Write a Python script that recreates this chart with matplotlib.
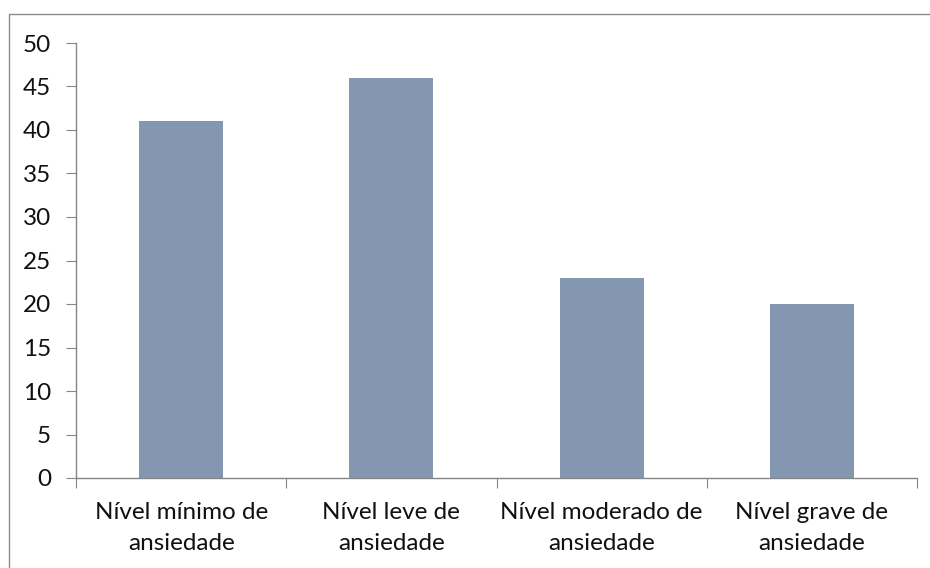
import matplotlib
matplotlib.use("Agg")
import matplotlib.pyplot as plt
from matplotlib.patches import Rectangle

categories = ["Nível mínimo de\nansiedade", "Nível leve de\nansiedade",
              "Nível moderado de\nansiedade", "Nível grave de\nansiedade"]
values = [41, 46, 23, 20]
yticks = [0, 5, 10, 15, 20, 25, 30, 35, 40, 45, 50]

BAR = "#8497b0"
AX = "#868686"
W, H = 930, 568

plt.rcParams["font.family"] = ["Lato", "DejaVu Sans"]

fig = plt.figure(figsize=(W / 100, H / 100), dpi=100)
# outer chart-area frame (runs off the right and bottom edges)
fig.patches.append(Rectangle((9 / W, -0.01), 1.0, (H - 14) / H + 0.01,
                             transform=fig.transFigure, fill=False,
                             edgecolor="#8c8c8c", lw=1.0))

ax = fig.add_axes([76 / W, (H - 478) / H, (917 - 76) / W, (478 - 43) / H])
x = range(len(categories))
ax.bar(x, values, width=0.4, color=BAR, zorder=2)

ax.set_xlim(-0.5, len(categories) - 0.5)
ax.set_ylim(0, 50)
ax.set_yticks(yticks)
ax.set_xticks([i - 0.5 for i in range(len(categories) + 1)], minor=False)
ax.set_xticklabels([])
ax.set_xticks(list(x), minor=True)
ax.set_xticklabels(categories, minor=True, fontsize=17.5, color="#111111",
                   linespacing=1.6)
ax.tick_params(axis="x", which="minor", length=0, pad=17)
ax.tick_params(axis="x", which="major", length=7, color=AX, direction="out")
ax.tick_params(axis="y", length=7, color=AX, direction="out", labelsize=17.5,
               labelcolor="#111111", pad=11)

for s in ("top", "right"):
    ax.spines[s].set_visible(False)
for s in ("left", "bottom"):
    ax.spines[s].set_color(AX)
    ax.spines[s].set_linewidth(1.0)

fig.savefig("out.png", dpi=100)
